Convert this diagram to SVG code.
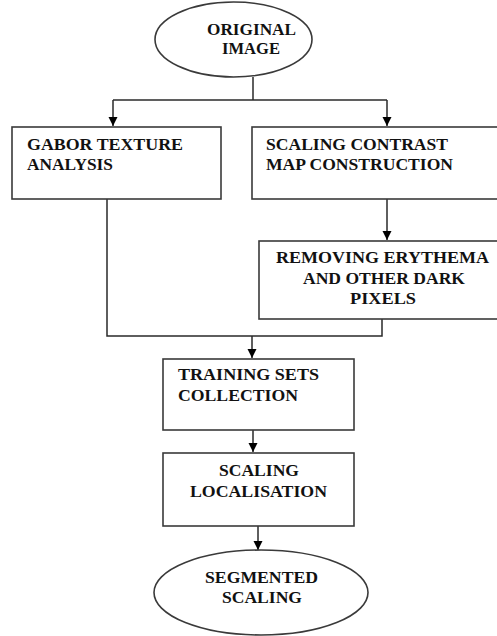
<svg xmlns="http://www.w3.org/2000/svg" width="497" height="636" viewBox="0 0 497 636">
<defs>
<marker id="arr" markerWidth="10" markerHeight="10" refX="9" refY="5" orient="auto" markerUnits="userSpaceOnUse">
<path d="M0,0.5 L9,5 L0,9.5 Z" fill="#000"/>
</marker>
<style>
.shape{fill:#fff;stroke:#3a3a3a;stroke-width:1.6}
.conn{fill:none;stroke:#2a2a2a;stroke-width:1.5}
text{fill:#111}
</style>
</defs>
<rect width="497" height="636" fill="#fff"/>
<g id="connectors">
<line class="conn" x1="253" y1="77" x2="253" y2="100"/>
<line class="conn" x1="113" y1="100" x2="387" y2="100"/>
<line class="conn" x1="113" y1="100" x2="113" y2="126" marker-end="url(#arr)"/>
<line class="conn" x1="387" y1="100" x2="387" y2="126" marker-end="url(#arr)"/>
<line class="conn" x1="387" y1="199" x2="387" y2="240" marker-end="url(#arr)"/>
<polyline class="conn" points="107,199 107,336 382,336 382,319"/>
<line class="conn" x1="252" y1="336" x2="252" y2="358" marker-end="url(#arr)"/>
<line class="conn" x1="253" y1="430" x2="253" y2="452" marker-end="url(#arr)"/>
<line class="conn" x1="258" y1="526" x2="258" y2="550" marker-end="url(#arr)"/>
</g>
<g font-family="Liberation Serif, Times New Roman, serif" font-weight="bold" font-size="17">
<g id="original">
<ellipse class="shape" cx="233.5" cy="39.5" rx="78.5" ry="37.5"/>
<text x="207" y="35" textLength="89" lengthAdjust="spacingAndGlyphs">ORIGINAL</text>
<text x="222" y="54" textLength="58" lengthAdjust="spacingAndGlyphs">IMAGE</text>
</g>
<g id="gabor">
<rect class="shape" x="12" y="127" width="209" height="72"/>
<text x="27" y="150" textLength="156" lengthAdjust="spacingAndGlyphs">GABOR TEXTURE</text>
<text x="27" y="170" textLength="86" lengthAdjust="spacingAndGlyphs">ANALYSIS</text>
</g>
<g id="contrast">
<rect class="shape" x="252" y="127" width="250" height="72"/>
<text x="266" y="150" textLength="182" lengthAdjust="spacingAndGlyphs">SCALING CONTRAST</text>
<text x="266" y="170" textLength="187" lengthAdjust="spacingAndGlyphs">MAP CONSTRUCTION</text>
</g>
<g id="removing">
<rect class="shape" x="259" y="241" width="245" height="78"/>
<text x="276" y="263" textLength="213" lengthAdjust="spacingAndGlyphs">REMOVING ERYTHEMA</text>
<text x="303" y="284" textLength="162" lengthAdjust="spacingAndGlyphs">AND OTHER DARK</text>
<text x="350" y="304" textLength="66" lengthAdjust="spacingAndGlyphs">PIXELS</text>
</g>
<g id="training">
<rect class="shape" x="163" y="359" width="191" height="71"/>
<text x="178" y="380" textLength="141" lengthAdjust="spacingAndGlyphs">TRAINING SETS</text>
<text x="178" y="401" textLength="120" lengthAdjust="spacingAndGlyphs">COLLECTION</text>
</g>
<g id="localisation">
<rect class="shape" x="163" y="453" width="191" height="73"/>
<text x="219" y="476" textLength="80" lengthAdjust="spacingAndGlyphs">SCALING</text>
<text x="190" y="497" textLength="137" lengthAdjust="spacingAndGlyphs">LOCALISATION</text>
</g>
<g id="segmented">
<ellipse class="shape" cx="261" cy="592.5" rx="107" ry="42.5"/>
<text x="205" y="583" textLength="113" lengthAdjust="spacingAndGlyphs">SEGMENTED</text>
<text x="222" y="603" textLength="80" lengthAdjust="spacingAndGlyphs">SCALING</text>
</g>
</g>
</svg>
